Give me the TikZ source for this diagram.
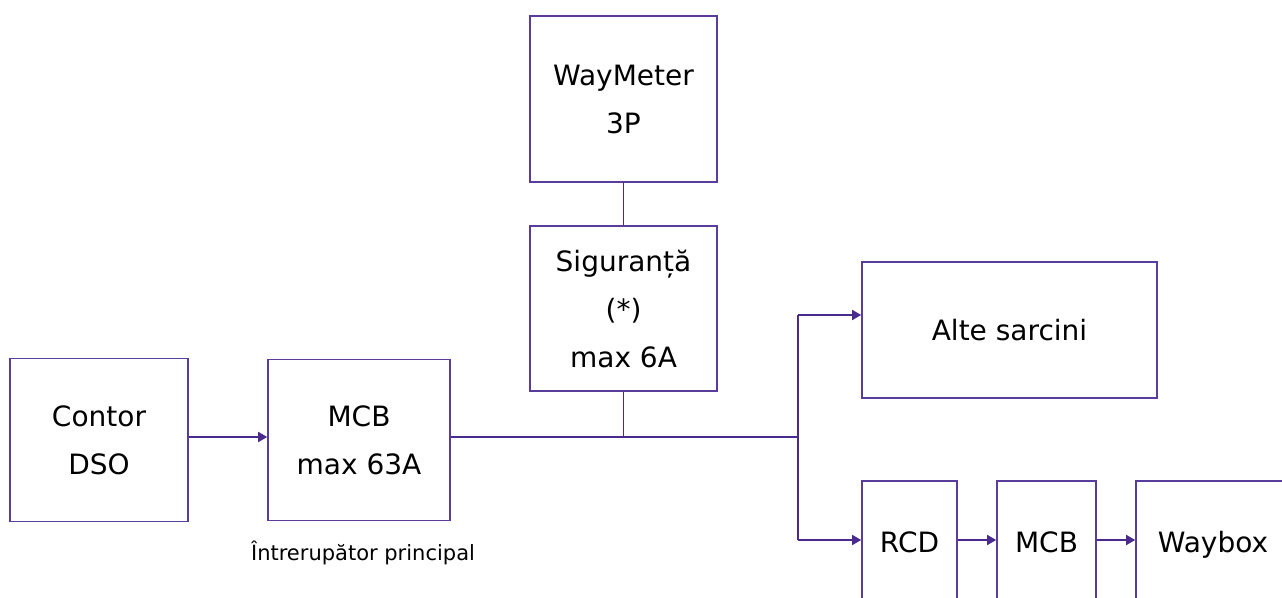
\documentclass[tikz,border=0pt]{standalone}
\usepackage{fontspec}
\setmainfont{DejaVu Sans}
\usetikzlibrary{arrows.meta}
\definecolor{boxc}{HTML}{5A3C9C}
\definecolor{linec}{HTML}{4A2A8C}
\tikzset{
  blk/.style={draw=boxc, line width=1.6pt, inner sep=0pt, align=center,
    font=\fontsize{28}{48}\selectfont, text=black},
  conn/.style={draw=linec, line width=1.6pt},
  arr/.style={conn, -{Triangle[length=9pt,width=10pt]}},
  note/.style={font=\fontsize{21}{24}\selectfont, text=black}
}
\begin{document}
\begin{tikzpicture}[x=1pt,y=-1pt]
\clip (0,0) rectangle (1282,597);
\fill[white] (0,0) rectangle (1282,597);
\node[blk, minimum width=178pt, minimum height=163pt] (contor) at (99,440) {Contor\\DSO};
\node[blk, minimum width=182pt, minimum height=161pt] (mcb1) at (359,440) {MCB\\max 63A};
\node[note] (lbl) at (363,553) {Întrerupător principal};
\node[blk, minimum width=187pt, minimum height=165pt] (sig) at (623.5,308.5) {Siguranță\\(*)\\max 6A};
\node[blk, minimum width=187pt, minimum height=166pt] (wm) at (623.5,99) {WayMeter\\3P};
\node[blk, minimum width=295pt, minimum height=136pt] (alte) at (1009.5,330) {Alte sarcini};
\node[blk, minimum width=95pt, minimum height=122pt] (rcd) at (909.5,542) {RCD};
\node[blk, minimum width=99pt, minimum height=122pt] (mcb2) at (1046.5,542) {MCB};
\node[blk, minimum width=154pt, minimum height=122pt, text depth=0pt] (waybox) at (1213,542) {Waybox};
\coordinate (j) at (798,437);
\coordinate (jt) at (798,315);
\coordinate (jb) at (798,540);
\draw[arr] (contor.east |- j) -- (mcb1.west |- j);
\draw[conn] (mcb1.east |- j) -- (j);
\draw[conn] (sig.south) -- (sig.south |- j);
\draw[conn] (wm.south) -- (sig.north);
\draw[conn] (jt) -- (jb);
\draw[arr] (jt) -- (alte.west |- jt);
\draw[arr] (jb) -- (rcd.west |- jb);
\draw[arr] (rcd.east |- jb) -- (mcb2.west |- jb);
\draw[arr] (mcb2.east |- jb) -- (waybox.west |- jb);
\end{tikzpicture}
\end{document}
